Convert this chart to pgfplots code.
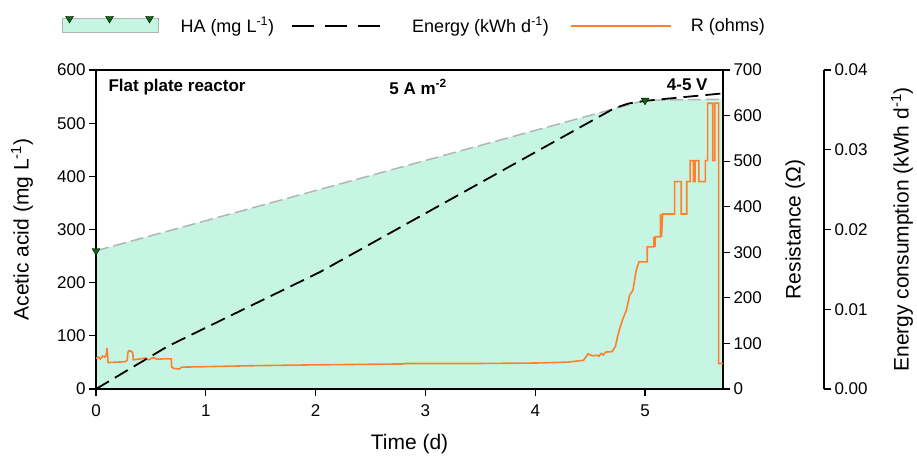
\documentclass[border=0pt]{standalone}
\usepackage{fontspec}
\setmainfont{Liberation Sans}
\usepackage{pgfplots}
\pgfplotsset{compat=1.18}

\definecolor{hafill}{HTML}{C7F5E3}
\definecolor{rorange}{HTML}{FF7F2A}
\definecolor{hagreen}{HTML}{0B6B0B}
\definecolor{hagray}{HTML}{B4B4B4}

\pgfplotsset{
  base/.style={
    scale only axis, width=627pt, height=319pt,
    at={(0pt,0pt)}, anchor=south west,
    xmin=0, xmax=5.71,
    tick align=outside,
    major tick length=7pt,
    tick style={line width=1.1pt, black},
    axis line style={line width=1.1pt},
    /pgf/number format/assume math mode=true,
    tick label style={font=\fontsize{17}{20}\selectfont},
    label style={font=\fontsize{21}{25}\selectfont},
  },
  ylab/.style={every axis y label/.style={at={(axis description cs:#1,0.5)}, rotate=90, anchor=center, font=\fontsize{21}{25}\selectfont}},
}

\begin{document}
\begin{tikzpicture}
\useasboundingbox (-96pt,-74pt) rectangle (821pt,389pt);

% HA area (left axis)
\begin{axis}[base, axis on top,
  ymin=0, ymax=600, ytick={0,100,...,600},
  xtick={0,...,5}, xtick pos=bottom, ytick pos=left,
  xticklabel style={yshift=-5pt},
  xlabel={Time (d)},
  every axis x label/.style={at={(axis description cs:0.5,-0.172)}, anchor=center, font=\fontsize{21}{25}\selectfont},
  ylabel={Acetic acid (mg L\textsuperscript{-1})}, ylab=-0.118,
  legend columns=3,
  legend style={at={(rel axis cs:-0.0542,1.141)}, anchor=west, draw=none, fill=none,
    inner sep=0pt, outer sep=0pt, column sep=0pt,
    font=\fontsize{18}{21}\selectfont, nodes={inner sep=0pt}},
]
\addplot[fill=hafill, draw=none, forget plot] coordinates {(0,260) (5,543) (5.71,545)} \closedcycle;
\addplot[hagray, line width=1.5pt, dash pattern=on 13pt off 5pt, forget plot] coordinates {(0,260) (5,543) (5.71,545)};

\addlegendimage{legend image code/.code={
  \path[draw=none] (0pt,0pt) -- (118pt,0pt);
  \fill[hafill] (0pt,-7pt) rectangle (96pt,7pt);
  \draw[hagray, line width=1pt] (0pt,-7pt) rectangle (96pt,7pt);
  \draw plot[only marks, mark=triangle*, mark size=4.5pt, mark options={rotate=180, fill=hagreen, draw=black, line width=0.4pt}] coordinates {(7pt,7pt) (47pt,7pt) (87pt,7pt)};
}}
\addlegendentry{HA (mg L\textsuperscript{-1})}
\addlegendimage{legend image code/.code={
  \path[draw=none] (0pt,0pt) -- (138pt,0pt);
  \draw[black, line width=2pt, dash pattern=on 22pt off 11pt] (18pt,0pt) -- (106pt,0pt);
}}
\addlegendentry{Energy (kWh d\textsuperscript{-1})}
\addlegendimage{legend image code/.code={
  \path[draw=none] (0pt,0pt) -- (142pt,0pt);
  \draw[rorange, line width=2pt] (22pt,0pt) -- (122pt,0pt);
}}
\addlegendentry{R (ohms)}
\end{axis}

% Resistance (first right axis)
\begin{axis}[base, hide x axis, axis y line*=right,
  ymin=0, ymax=700, ytick={0,100,...,700},
  ylabel={Resistance (Ω)}, ylab=1.115,
]
\addplot[rorange, line width=1.6pt] coordinates {
(0,67) (0.02,70) (0.04,66) (0.06,72) (0.08,70) (0.095,76) (0.1,90) (0.105,76) (0.11,58)
(0.2,59) (0.27,60) (0.285,64) (0.29,80) (0.3,84) (0.32,83) (0.335,79) (0.34,64)
(0.4,66) (0.45,68) (0.48,64) (0.52,69) (0.56,65) (0.6,66) (0.685,66) (0.69,48)
(0.71,45) (0.76,44) (0.78,48) (1.0,49) (1.4,51) (2.0,53) (2.8,55) (2.82,56) (3.5,56)
(4.0,57) (4.3,59) (4.44,63) (4.48,77) (4.52,73) (4.56,74) (4.58,72) (4.6,78) (4.62,75)
(4.64,81) (4.7,82) (4.71,86) (4.73,93) (4.75,115) (4.77,133) (4.8,155) (4.83,173)
(4.86,206) (4.89,217) (4.92,261) (4.945,279) (5.02,279) (5.02,312) (5.08,312)
(5.08,334) (5.09,312) (5.095,334) (5.14,334) (5.14,384) (5.15,334) (5.16,384)
(5.27,384) (5.27,455) (5.33,455) (5.33,384) (5.38,384) (5.38,455) (5.41,455)
(5.41,501) (5.44,501) (5.44,455) (5.455,455) (5.455,501) (5.49,501) (5.49,455)
(5.55,455) (5.55,501) (5.57,501) (5.57,627) (5.615,627) (5.615,501) (5.635,501)
(5.635,627) (5.67,627) (5.67,56) (5.71,56)
};
\end{axis}

% Energy (offset right axis)
\begin{axis}[base, width=728pt, xmax=6.630, hide x axis, axis y line*=right,
  ymin=0, ymax=0.04, ytick={0,0.01,0.02,0.03,0.04}, scaled y ticks=false,
  yticklabel style={/pgf/number format/.cd, fixed, fixed zerofill, precision=2},
  ylabel={Energy consumption (kWh d\textsuperscript{-1})}, ylab=1.107,
]
\addplot[black, line width=1.8pt, dash pattern=on 15pt off 7pt] coordinates {
(0,0) (0.65,0.00533) (2.04,0.01467) (4.72,0.0352) (4.85,0.0358) (5.0,0.03613) (5.35,0.0366) (5.71,0.03707)
};
\end{axis}

% HA sample markers and annotations
\begin{axis}[base, hide x axis, hide y axis, ymin=0, ymax=600, clip=false]
\addplot[only marks, mark=triangle*, mark size=4.5pt, mark options={rotate=180, fill=hagreen, draw=black, line width=0.4pt}] coordinates {(0,260) (5,543)};
\node[anchor=west, font=\bfseries\fontsize{17}{20}\selectfont] at (rel axis cs:0.0144,0.947) {Flat plate reactor};
\node[anchor=center, font=\bfseries\fontsize{17}{20}\selectfont] at (rel axis cs:0.5136,0.947) {5 A m\textsuperscript{-2}};
\node[anchor=east, font=\bfseries\fontsize{17}{20}\selectfont] at (rel axis cs:0.981,0.953) {4-5 V};
\end{axis}
\end{tikzpicture}
\end{document}
